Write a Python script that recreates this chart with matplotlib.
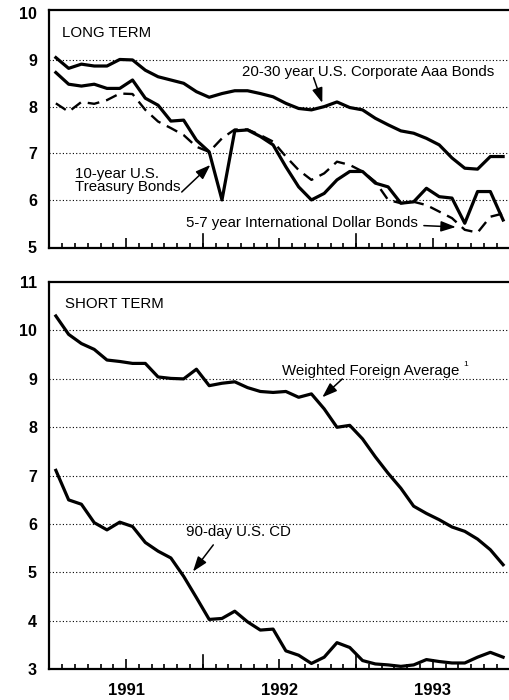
import numpy as np
import matplotlib
matplotlib.use("Agg")
import matplotlib.pyplot as plt

plt.rcParams['font.family'] = ['Liberation Sans', 'DejaVu Sans']

# monthly values, Jan 1991 - Dec 1993
years = ['1991', '1992', '1993']

corporate_aaa = [9.05, 8.82, 8.91, 8.87, 8.87, 9.01, 9.00, 8.78, 8.64, 8.57, 8.50, 8.32,
                 8.20, 8.28, 8.34, 8.34, 8.28, 8.21, 8.07, 7.96, 7.93, 8.00, 8.10, 7.98,
                 7.93, 7.75, 7.61, 7.48, 7.43, 7.32, 7.18, 6.90, 6.68, 6.66, 6.93, 6.93]

treasury_10y = [8.73, 8.48, 8.44, 8.48, 8.39, 8.39, 8.57, 8.18, 8.03, 7.69, 7.71, 7.28,
                7.03, 6.00, 7.48, 7.50, 7.36, 7.18, 6.71, 6.28, 6.00, 6.14, 6.43, 6.61,
                6.61, 6.36, 6.28, 5.93, 5.96, 6.25, 6.07, 6.04, 5.50, 6.18, 6.18, 5.57]

intl_dollar = [8.07, 7.89, 8.10, 8.06, 8.14, 8.28, 8.27, 7.93, 7.68, 7.54, 7.39, 7.14,
               7.03, 7.32, 7.51, 7.51, 7.39, 7.25, 6.93, 6.64, 6.43, 6.57, 6.82, 6.75,
               6.61, 6.39, 6.00, 5.93, 5.96, 5.89, 5.75, 5.61, 5.36, 5.30, 5.64, 5.71]

foreign_avg = [10.30, 9.92, 9.73, 9.61, 9.39, 9.36, 9.32, 9.32, 9.04, 9.01, 9.00, 9.20,
               8.86, 8.91, 8.94, 8.82, 8.74, 8.72, 8.74, 8.62, 8.69, 8.38, 8.00, 8.04,
               7.76, 7.39, 7.05, 6.74, 6.37, 6.22, 6.09, 5.94, 5.85, 5.69, 5.47, 5.16]

cd_90day = [7.11, 6.50, 6.41, 6.03, 5.88, 6.04, 5.95, 5.62, 5.44, 5.30, 4.92, 4.48,
            4.03, 4.05, 4.20, 3.98, 3.81, 3.83, 3.38, 3.29, 3.12, 3.25, 3.55, 3.45,
            3.18, 3.11, 3.09, 3.06, 3.09, 3.20, 3.16, 3.13, 3.13, 3.25, 3.35, 3.25]


def style_axes(ax, ymin, ymax, grid_vals, height_px, show_years):
    months = np.arange(len(corporate_aaa)) + 0.5
    ax.set_xlim(0, 36)
    ax.set_ylim(ymin, ymax)
    ax.spines['right'].set_visible(False)
    for s in ['left', 'bottom', 'top']:
        ax.spines[s].set_linewidth(1.6)

    for g in grid_vals:
        ax.axhline(g, color='black', lw=0.8, linestyle=(0, (1, 2)), zorder=1)

    ax.set_yticks(range(int(np.ceil(ymin)), int(round(ymax)) + 1))
    ax.tick_params(axis='y', length=0, pad=9, labelsize=11.5)
    for lab in ax.get_yticklabels():
        lab.set_fontweight('bold')

    ax.set_xticks([6, 18, 30])
    ax.set_xticks(np.arange(1, 36), minor=True)
    ax.tick_params(axis='x', which='major', direction='in', length=7, width=1.2, pad=10)
    ax.tick_params(axis='x', which='minor', direction='in', length=3.5, width=1.2)
    if show_years:
        ax.set_xticklabels(years, fontsize=12, fontweight='bold')
    else:
        ax.set_xticklabels([])
    for b in [12, 24]:
        ax.axvline(b, ymin=0, ymax=14.0 / height_px, color='black', lw=1.2)
    return months


def arrow(ax, tail, head):
    ax.annotate('', xy=head, xytext=tail,
                arrowprops=dict(arrowstyle='-|>,head_length=0.9,head_width=0.32',
                                color='black', lw=1.1, shrinkA=0, shrinkB=0))


def main():
    fig = plt.figure(figsize=(5.1, 7), dpi=100)
    ax1 = fig.add_axes([0.097, 0.6457, 0.902, 0.34])
    ax2 = fig.add_axes([0.097, 0.0439, 0.902, 0.5531])

    m = style_axes(ax1, 4.97, 10.07, [6, 7, 8, 9], 238, False)
    ax1.plot(m, corporate_aaa, color='black', lw=2.3, zorder=3)
    ax1.plot(m, treasury_10y, color='black', lw=2.3, zorder=3)
    ax1.plot(m, intl_dollar, color='black', lw=1.7, linestyle=(0, (5, 3)), zorder=3)

    tk = dict(fontsize=10.8, color='black')
    ax1.text(0.98, 9.58, 'LONG TERM', ha='left', va='center', **tk)
    ax1.text(15.1, 8.75, '20-30 year U.S. Corporate Aaa Bonds', ha='left', va='center', **tk)
    arrow(ax1, (20.67, 8.62), (21.35, 8.08))
    ax1.text(2.0, 6.42, '10-year U.S.\nTreasury Bonds', ha='left', va='center',
             linespacing=0.95, **tk)
    arrow(ax1, (10.35, 6.17), (12.59, 6.75))
    ax1.text(10.7, 5.51, '5-7 year International Dollar Bonds', ha='left', va='center', **tk)
    arrow(ax1, (29.3, 5.45), (31.8, 5.42))

    m = style_axes(ax2, 3.0, 10.97, [4, 5, 6, 7, 8, 9, 10], 387, True)
    ax2.plot(m, foreign_avg, color='black', lw=2.3, zorder=3)
    ax2.plot(m, cd_90day, color='black', lw=2.3, zorder=3)

    ax2.text(1.22, 10.54, 'SHORT TERM', ha='left', va='center', **tk)
    ax2.text(18.2, 9.17, 'Weighted Foreign Average', ha='left', va='center', **tk)
    ax2.text(32.4, 9.3, '1', ha='left', va='center', fontsize=6)
    arrow(ax2, (22.92, 9.0), (21.35, 8.62))
    ax2.text(10.7, 5.84, '90-day U.S. CD', ha='left', va='center', **tk)
    arrow(ax2, (12.82, 5.57), (11.23, 5.02))

    fig.savefig('out.png', dpi=100)


if __name__ == '__main__':
    main()
